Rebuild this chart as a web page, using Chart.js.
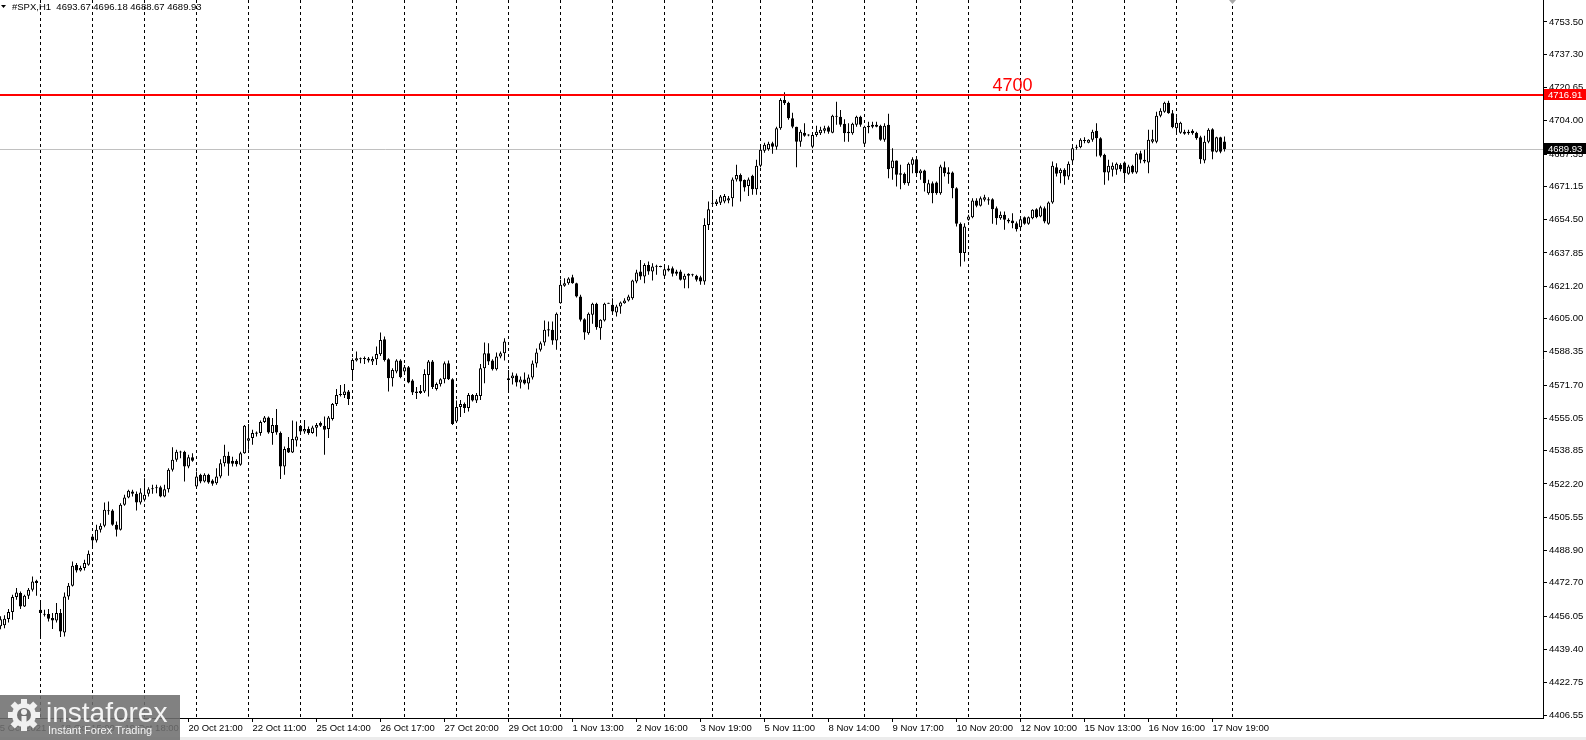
<!DOCTYPE html>
<html>
<head>
<meta charset="utf-8">
<title>#SPX,H1</title>
<script src="https://cdn.jsdelivr.net/npm/chart.js@4.4.1/dist/chart.umd.min.js"></script>
<style>
  html, body { margin: 0; padding: 0; background: #fff; }
  canvas { display: block; }
</style>
</head>
<body>
<canvas id="chart" width="1586" height="740"></canvas>
<script>
// --- DATA (H1 bars, oldest first) ---
const opens = [
  4451, 4451.5, 4454.6, 4458.1, 4465.6, 4467.6, 4460.9, 4466.3, 4469.3, 4473.8,
  4459.3, 4457.1, 4457.1, 4455.1, 4453.9, 4457.6, 4447.9, 4465.9, 4471.3, 4481.6,
  4478.9, 4480.1, 4481.8, 4495.9, 4493.9, 4499.3, 4501.3, 4508.6, 4508.9, 4501.8,
  4499.3, 4511.8, 4515.4, 4518.4, 4517.3, 4512.9, 4514.3, 4517.3, 4519.6, 4520.1,
  4520.6, 4515.9, 4519.6, 4529.3, 4534.3, 4538.4, 4538.4, 4530.9, 4535.6, 4520.9,
  4526.8, 4523.4, 4526.8, 4523.9, 4522.6, 4525.9, 4532.6, 4536.3, 4533.9, 4533.8,
  4531.8, 4537.6, 4543.9, 4545.2, 4547.3, 4547.7, 4553.2, 4555.5, 4547.7, 4551.8,
  4547.7, 4531, 4540.2, 4538, 4544, 4551.3, 4548.5, 4549.7, 4547.7, 4550.3,
  4552.7, 4551.3, 4549.7, 4554.7, 4562.3, 4566.7, 4566.8, 4568.5, 4579.3, 4584,
  4584.8, 4584.8, 4585, 4583.5, 4584.7, 4587.2, 4594.7, 4584.7, 4575.2, 4578.5,
  4584, 4578.5, 4580.7, 4574, 4568.5, 4567.7, 4568.5, 4576.8, 4583.5, 4569.7,
  4572.2, 4574.7, 4582.7, 4574.7, 4553.5, 4560.7, 4562.3, 4560.2, 4566.7, 4564,
  4566.3, 4580.2, 4587.7, 4584, 4579.7, 4586, 4587.7, 4574.3, 4575.2, 4576.5,
  4573, 4574.5, 4572.5, 4575.5, 4582.5, 4589.4, 4593, 4599, 4599.4, 4594,
  4612.7, 4621.4, 4622.7, 4625.7, 4622.7, 4616.1, 4604.7, 4597.7, 4606.9, 4612.4,
  4600.2, 4604, 4612.7, 4611.9, 4608.1, 4611.1, 4612.7, 4614.1, 4615.2, 4623.6,
  4628.6, 4626.1, 4631.9, 4628.6, 4631, 4631.1, 4626.4, 4630.1, 4630.2, 4628.6,
  4628.6, 4624.4, 4627.4, 4626.9, 4626.4, 4625.7, 4623.6, 4651.9, 4662.7, 4662.4,
  4663, 4663.6, 4664.1, 4665.2, 4674.7, 4676.9, 4674.4, 4671.4, 4676.5, 4669.8,
  4681.5, 4689.1, 4689.8, 4692.8, 4691.1, 4700.3, 4714.5, 4713.1, 4705.3, 4701.1,
  4693.6, 4698.1, 4696.9, 4691.1, 4696.9, 4697.8, 4699.1, 4700.8, 4698.1, 4706.1,
  4706.1, 4702.5, 4697.8, 4697.8, 4702, 4706.1, 4692.5, 4700.8, 4701.1, 4702,
  4701.5, 4694.5, 4702, 4680.3, 4684.1, 4677, 4677.5, 4672.8, 4682, 4684.8,
  4677.8, 4679.1, 4667.8, 4672.8, 4673.1, 4667.8, 4680.8, 4677.3, 4678.1, 4670.3,
  4652.5, 4637.8, 4654.5, 4655.8, 4664.1, 4661.5, 4664.5, 4664.8, 4664.8, 4660.3,
  4655.3, 4657, 4654.5, 4654.1, 4652.8, 4650.8, 4655.8, 4652.5, 4655.3, 4659.8,
  4656.1, 4660.3, 4652.5, 4663.1, 4680.8, 4677.8, 4679.5, 4676.1, 4684.1, 4690.8,
  4690.8, 4694.3, 4693.1, 4694.5, 4699.1, 4695.3, 4687, 4678.1, 4679.5, 4679.5,
  4682, 4683.1, 4677.5, 4681.5, 4678.1, 4687.8, 4684.5, 4683.1, 4693.6, 4693.6,
  4706.5, 4708.6, 4713.1, 4707.8, 4700.3, 4698.1, 4698.6, 4697.8, 4699.1, 4698.1,
  4695.8, 4684.1, 4693.6, 4699.8, 4688.6, 4695.8, 4693.67
];
const highs = [
  4456, 4456.5, 4459.6, 4466.8, 4470.1, 4468.4, 4466.8, 4470.1, 4475.9, 4474.3,
  4463.8, 4459.3, 4459.6, 4457.6, 4462.6, 4459.6, 4467.9, 4472.6, 4483.4, 4482.6,
  4481.3, 4484.3, 4488.9, 4496.8, 4501.8, 4502.6, 4512.9, 4513.4, 4509.6, 4503.4,
  4512.6, 4516.8, 4519.3, 4519.3, 4518.4, 4520.1, 4525.1, 4520.6, 4521.8, 4521.8,
  4521.3, 4521.8, 4530.1, 4540.6, 4539.3, 4538.8, 4538.9, 4536.8, 4537.6, 4528.4,
  4527.3, 4527.6, 4527.3, 4524.6, 4530.1, 4534.6, 4541.8, 4538.4, 4535.9, 4534.6,
  4538.4, 4551.8, 4552.3, 4549.3, 4548.5, 4554, 4556.3, 4556, 4555.2, 4559.8,
  4548.5, 4541, 4545.7, 4554, 4553.5, 4551.8, 4554.3, 4551, 4551.3, 4552.7,
  4553.5, 4556, 4556.3, 4562.7, 4569.7, 4571.8, 4572.3, 4569.3, 4585.2, 4588.5,
  4585.5, 4586, 4585.8, 4586, 4591, 4598, 4596, 4585.2, 4580.2, 4584.7,
  4584.7, 4581.8, 4581.3, 4574.7, 4570.7, 4571.8, 4579.7, 4584.3, 4584.3, 4573,
  4575.2, 4583.5, 4584, 4575.2, 4564, 4564.3, 4563, 4567.7, 4567.3, 4567.7,
  4582.3, 4593, 4592.7, 4584.7, 4588, 4588.5, 4595.2, 4579.3, 4578, 4577.5,
  4576, 4578, 4577, 4584, 4590, 4593.5, 4604, 4603.6, 4603.6, 4608,
  4624.4, 4625.2, 4625.7, 4626.9, 4623, 4616.9, 4605.2, 4608, 4613, 4613,
  4604.7, 4613, 4613, 4615.2, 4611.9, 4613.6, 4615.2, 4616.9, 4624.4, 4629.4,
  4634.4, 4632.7, 4633.6, 4632.7, 4632, 4631.5, 4631.1, 4631.7, 4631.1, 4629.4,
  4629.4, 4627.4, 4627.7, 4627.4, 4626.9, 4626.4, 4655.2, 4663.6, 4669.4, 4664.7,
  4666.9, 4667.4, 4666.4, 4675.7, 4682, 4677.7, 4674.7, 4675.7, 4677, 4684.5,
  4691.1, 4693, 4693.6, 4693.6, 4701.1, 4715.3, 4718.3, 4713.6, 4708.1, 4701.1,
  4699.5, 4702.8, 4697.3, 4697.8, 4701.5, 4701.1, 4701.5, 4701.5, 4707, 4713.6,
  4709.5, 4704.8, 4702.8, 4703.1, 4706.5, 4706.5, 4701.5, 4703.6, 4703.6, 4703.6,
  4702, 4702.8, 4707.5, 4690.3, 4684.1, 4682, 4678.1, 4683.1, 4685.8, 4685.3,
  4679.8, 4679.5, 4674.5, 4673.6, 4673.6, 4682, 4683.6, 4680.8, 4678.6, 4670.8,
  4653.1, 4652.8, 4657, 4665.3, 4665.3, 4666.1, 4667, 4665.8, 4665.3, 4661.1,
  4658.6, 4658.6, 4655.3, 4657.8, 4653.6, 4655.3, 4656.1, 4656.1, 4659.8, 4660.3,
  4661.5, 4661.1, 4663.6, 4683.6, 4682.8, 4680.3, 4680.3, 4683.6, 4691.1, 4692,
  4695.3, 4695.8, 4694.8, 4699.5, 4702.8, 4695.8, 4687.5, 4684.5, 4683.1, 4683.1,
  4682.8, 4683.6, 4682, 4682, 4688.1, 4689.1, 4689.5, 4699.5, 4699.5, 4708.6,
  4710.3, 4713.6, 4714.1, 4709.5, 4705.8, 4703.6, 4699.5, 4699.5, 4699.8, 4698.6,
  4696.5, 4696.5, 4700.3, 4700.3, 4696.1, 4696.1, 4696.18
];
const lows = [
  4449.5, 4450, 4452.9, 4454.3, 4464.3, 4459.6, 4460.6, 4464.6, 4468.4, 4466.3,
  4445.9, 4455.9, 4453.4, 4449.6, 4452.9, 4445.6, 4445.9, 4464.3, 4470.9, 4477.9,
  4478.4, 4478.9, 4481.3, 4490.1, 4492.9, 4497.9, 4500.6, 4506.8, 4501.3, 4495.9,
  4498.9, 4511.3, 4515.1, 4515.9, 4508.9, 4511.9, 4513.4, 4515.9, 4517.3, 4517.6,
  4515.6, 4515.6, 4517.9, 4528.4, 4533.4, 4535.1, 4523.4, 4530.1, 4533.4, 4520.6,
  4522.6, 4522.9, 4522.3, 4521.3, 4521.8, 4525.1, 4530.9, 4526.3, 4530.9, 4530.9,
  4531.3, 4537.3, 4539.3, 4541.8, 4546, 4546.3, 4552.7, 4547.3, 4541.8, 4546.8,
  4524.7, 4526.8, 4537.7, 4537.7, 4541, 4547.7, 4547.3, 4546.8, 4547.3, 4546,
  4550.7, 4536.8, 4545.2, 4554, 4561.3, 4566, 4565.2, 4561.8, 4575.2, 4583.5,
  4582.7, 4582.3, 4583, 4581.8, 4581.8, 4586.3, 4583.5, 4568.5, 4571, 4577.7,
  4575.2, 4577.7, 4572.7, 4566.8, 4564.7, 4567.3, 4567.7, 4566, 4569.7, 4569,
  4571, 4572.7, 4574.3, 4551.8, 4553, 4555.7, 4557.7, 4558.5, 4563.5, 4562.7,
  4564.3, 4572.7, 4581.8, 4579, 4579, 4585.2, 4584, 4569.3, 4572, 4571,
  4570, 4572, 4569.5, 4574.5, 4580.5, 4588.5, 4591.4, 4596, 4591.9, 4589.4,
  4612.4, 4621, 4621.9, 4622.4, 4615.6, 4603.6, 4594.4, 4596.9, 4602.4, 4599.4,
  4594.4, 4603.6, 4612.4, 4607.7, 4606.1, 4607.4, 4612.4, 4613.6, 4614.4, 4622.7,
  4624.4, 4622.7, 4626.9, 4624.1, 4627, 4630.7, 4626.1, 4628.6, 4626.1, 4626.4,
  4624.1, 4620.2, 4620.2, 4626.1, 4623.6, 4621.9, 4621.9, 4649.4, 4661.4, 4661.4,
  4661.9, 4662.7, 4662.7, 4661.1, 4673.6, 4663.6, 4668.6, 4666.4, 4667, 4667,
  4680.8, 4688, 4689.1, 4687.5, 4689.5, 4699.5, 4712, 4704.5, 4700.3, 4680.8,
  4691.1, 4696.1, 4696.3, 4690.3, 4696.1, 4696.9, 4697.8, 4697.5, 4697.8, 4702,
  4701.1, 4693.6, 4693.6, 4697, 4701.1, 4701.1, 4692, 4697.8, 4700.3, 4700.8,
  4694.1, 4693.6, 4675.3, 4674.5, 4671.1, 4669.8, 4672, 4671.5, 4677.8, 4677,
  4674.5, 4668.6, 4667, 4662.8, 4667, 4667, 4676.1, 4672.5, 4665.3, 4651.1,
  4631.1, 4633.6, 4654, 4655.3, 4660.8, 4661.1, 4663.6, 4662, 4652.5, 4652,
  4654.5, 4649.5, 4652.8, 4650.3, 4648.6, 4649.5, 4652, 4652, 4654.8, 4655.3,
  4655.8, 4652.8, 4652, 4662.5, 4676.1, 4672.8, 4672, 4674.5, 4683.1, 4689.5,
  4690.3, 4692.8, 4692.8, 4693.6, 4686.1, 4685.8, 4672, 4674.1, 4676.1, 4677,
  4678.6, 4674.5, 4677, 4677.5, 4677.5, 4682.8, 4682.8, 4677.8, 4692.8, 4692.8,
  4705.8, 4708.1, 4707.5, 4700.3, 4697.8, 4697.5, 4697, 4697, 4697, 4694.5,
  4682.5, 4682.8, 4692.8, 4684.8, 4688.1, 4687.8, 4688.67
];
const closes = [
  4454.5, 4454.7, 4458.1, 4465.6, 4467.9, 4460.9, 4466.3, 4469.3, 4473.4, 4472.6,
  4457.6, 4456.8, 4454.8, 4453.9, 4457.6, 4448.4, 4465.9, 4471.3, 4481.3, 4478.9,
  4480.1, 4482.6, 4487.3, 4493.9, 4499.3, 4501.3, 4509.3, 4508.9, 4501.8, 4499.3,
  4511.8, 4515.4, 4518.8, 4517.3, 4512.9, 4517.9, 4516.8, 4519.6, 4520.1, 4520.6,
  4515.9, 4519.6, 4529.3, 4534.3, 4538.4, 4538.1, 4530.9, 4535.6, 4533.9, 4525.9,
  4523.4, 4526.8, 4522.9, 4522.3, 4525.9, 4532.6, 4536.3, 4532.3, 4532.3, 4532.1,
  4537.6, 4551.3, 4545.1, 4547.7, 4548, 4553.2, 4555.5, 4548, 4551.8, 4548,
  4531, 4539.7, 4538, 4544.7, 4546, 4548.5, 4549.7, 4547.7, 4550.5, 4551.8,
  4551.3, 4549.3, 4555.5, 4562.3, 4566.8, 4567.3, 4568.5, 4564.7, 4584.3, 4585.2,
  4584.9, 4585.2, 4584, 4584.8, 4587.3, 4594.3, 4584.3, 4575.2, 4579.3, 4584,
  4575.7, 4580.7, 4573, 4568, 4567.7, 4568.8, 4577.3, 4583.5, 4570.7, 4572.3,
  4574.7, 4582.7, 4574.7, 4552.3, 4560.7, 4562.3, 4560.2, 4566.7, 4564, 4566.7,
  4580.2, 4587.7, 4583.5, 4579.7, 4586, 4587.7, 4593.5, 4575.2, 4576.5, 4573,
  4574.5, 4572.5, 4575.5, 4582.5, 4588, 4592.7, 4599.4, 4599.7, 4594, 4607.4,
  4621.9, 4622.7, 4625.1, 4622.7, 4616.1, 4604.4, 4598.1, 4607.4, 4612.4, 4600.7,
  4604.4, 4612.4, 4612.7, 4608.6, 4611.1, 4613.1, 4614.1, 4616.1, 4624.1, 4628.1,
  4626.1, 4631.9, 4628.6, 4631.1, 4631.4, 4631.1, 4629.7, 4629.1, 4627.4, 4627.4,
  4624.4, 4626.4, 4626.4, 4626.9, 4624.4, 4623.6, 4651.9, 4659.7, 4662.8, 4663.6,
  4666.1, 4666.4, 4665.2, 4674.7, 4676.9, 4673.6, 4670.7, 4674.7, 4669.8, 4681.5,
  4689.5, 4692, 4692.5, 4691.1, 4700.3, 4714.5, 4712.8, 4705.3, 4701.1, 4693.6,
  4698.6, 4696.5, 4696.9, 4696.9, 4698.6, 4699.5, 4700.3, 4698.6, 4706.5, 4706.5,
  4702, 4697.8, 4698.6, 4702.5, 4706.1, 4702, 4701.1, 4701.5, 4702, 4701.1,
  4694.5, 4701.5, 4679.8, 4684.1, 4677, 4677.8, 4672.8, 4682.5, 4684.8, 4677.8,
  4679.1, 4672.8, 4672.8, 4667.8, 4667.8, 4681.1, 4677.8, 4678.3, 4670.3, 4652.5,
  4637.8, 4651.1, 4656.1, 4664.1, 4661.5, 4665.3, 4665.8, 4664.1, 4659.8, 4655.3,
  4657, 4654.5, 4653.6, 4652.8, 4649.8, 4654.8, 4652.5, 4655.8, 4659.5, 4655.8,
  4660.8, 4653.6, 4663.1, 4681.5, 4677.5, 4679.5, 4676.1, 4682.5, 4690.3, 4690.8,
  4694.5, 4694.1, 4694.5, 4698.6, 4695.3, 4686.5, 4678.1, 4681.5, 4681.5, 4682.5,
  4679.8, 4677.8, 4681.1, 4678.1, 4687.5, 4684.5, 4683.6, 4694.5, 4694.8, 4706.5,
  4709.1, 4713.1, 4707.8, 4700.8, 4703.1, 4703.1, 4697.5, 4698.6, 4697.8, 4695.3,
  4684.8, 4693.6, 4699.5, 4688.6, 4695.8, 4688.6, 4689.93
];

// bar index where each dotted separator sits
const separatorBars = [10, 23, 36, 49, 62, 75, 88, 101, 114, 127, 140, 153, 166, 178, 190, 203, 216, 229, 242, 255, 268, 281, 294, 308];

const timeLabels = ["15 Oct 2021", "18 Oct 15:00", "19 Oct 18:00", "20 Oct 21:00", "22 Oct 11:00", "25 Oct 14:00",
  "26 Oct 17:00", "27 Oct 20:00", "29 Oct 10:00", "1 Nov 13:00", "2 Nov 16:00", "3 Nov 19:00", "5 Nov 11:00",
  "8 Nov 14:00", "9 Nov 17:00", "10 Nov 20:00", "12 Nov 10:00", "15 Nov 13:00", "16 Nov 16:00", "17 Nov 19:00"];
const timeLabelBars = [-1.5, 15, 31, 47, 63, 79, 95, 111, 127, 143, 159, 175, 191, 207, 223, 239, 255, 271, 287, 303];

const priceTicks = [4753.50, 4737.30, 4720.65, 4704.00, 4687.35, 4671.15, 4654.50, 4637.85, 4621.20, 4605.00, 4588.35,
  4571.70, 4555.05, 4538.85, 4522.20, 4505.55, 4488.90, 4472.70, 4456.05, 4439.40, 4422.75, 4406.55];

const levelPrice = 4716.91;
const levelText = "4700";
const levelTextBar = 253;
const bidPrice = 4689.93;
const symbol = "#SPX,H1";

// --- VIEW ---
const barMin = -0.125, barMax = 385.625;
const priceMin = 4405.05, priceMax = 4764.51;
const FONT = "'Liberation Sans', Arial, sans-serif";

const bodies = opens.map((o, i) => {
    let lo = Math.min(o, closes[i]), hi = Math.max(o, closes[i]);
    if (hi - lo < 0.5) {
        const m = (lo + hi) / 2;
        lo = m - 0.25;
        hi = m + 0.25;
    }
    return { x: i, y: [lo, hi] };
});
const wicks = opens.map((o, i) => ({ x: i, y: [lows[i], highs[i]] }));
const bodyColors = opens.map((o, i) => closes[i] >= o ? "#ffffff" : "#000000");

// --- OVERLAYS ---
function drawLogo(ctx) {
    ctx.save();
    ctx.fillStyle = "rgba(112,112,112,0.88)";
    ctx.fillRect(0, 695, 180, 45);

    // gear
    const cx = 24, cy = 715;
    ctx.fillStyle = "#f0f0f0";
    for (let k = 0; k < 8; k++) {
        ctx.save();
        ctx.translate(cx, cy);
        ctx.rotate(k * Math.PI / 4);
        ctx.fillRect(-3, -16, 6, 6);
        ctx.restore();
    }
    ctx.beginPath();
    ctx.arc(cx, cy, 12, 0, Math.PI * 2);
    ctx.fill();
    ctx.fillStyle = "rgb(112,112,112)";
    ctx.beginPath();
    ctx.arc(cx, cy, 7, 0, Math.PI * 2);
    ctx.fill();
    ctx.fillStyle = "#f0f0f0";
    ctx.beginPath();
    ctx.arc(cx, cy - 3, 3, 0, Math.PI * 2);
    ctx.fill();
    ctx.fillRect(cx - 2.5, cy + 1, 5, 14);

    ctx.fillStyle = "#f4f4f4";
    ctx.textBaseline = "alphabetic";
    ctx.textAlign = "left";
    ctx.font = "28px " + FONT;
    ctx.fillText("instaforex", 46, 722);
    ctx.font = "11px " + FONT;
    ctx.fillText("Instant Forex Trading", 48, 734);
    ctx.restore();
}

function priceBox(ctx, y, bg, text) {
    ctx.fillStyle = bg;
    ctx.fillRect(1544, y - 6, 42, 11);
    ctx.fillStyle = "#ffffff";
    ctx.font = "9.5px " + FONT;
    ctx.textAlign = "left";
    ctx.textBaseline = "middle";
    ctx.fillText(text, 1548, y);
}

const overlay = {
    id: "overlay",
    beforeDatasetsDraw(chart) {
        const { ctx, chartArea: a, scales: { y } } = chart;
        const yb = Math.round(y.getPixelForValue(bidPrice)) + 0.5;
        ctx.save();
        ctx.strokeStyle = "#c0c0c0";
        ctx.lineWidth = 1;
        ctx.beginPath();
        ctx.moveTo(a.left, yb);
        ctx.lineTo(a.right, yb);
        ctx.stroke();
        ctx.restore();
    },
    afterDatasetsDraw(chart) {
        const { ctx, chartArea: a, scales: { x, y } } = chart;
        const yr = Math.round(y.getPixelForValue(levelPrice));
        ctx.save();
        ctx.fillStyle = "#ff0000";
        ctx.fillRect(a.left, yr - 1, a.right - a.left, 2);
        ctx.font = "18px " + FONT;
        ctx.textAlign = "center";
        ctx.textBaseline = "alphabetic";
        ctx.fillText(levelText, x.getPixelForValue(levelTextBar), yr - 4);
        ctx.restore();
    },
    afterDraw(chart) {
        const { ctx, scales: { y } } = chart;
        ctx.save();
        priceBox(ctx, Math.round(y.getPixelForValue(levelPrice)), "#ff0000", levelPrice.toFixed(2));
        priceBox(ctx, Math.round(y.getPixelForValue(bidPrice)), "#000000", bidPrice.toFixed(2));

        // header
        ctx.fillStyle = "#000";
        ctx.beginPath();
        ctx.moveTo(1, 5); ctx.lineTo(6, 5); ctx.lineTo(3.5, 8); ctx.closePath();
        ctx.fill();
        ctx.font = "9.5px " + FONT;
        ctx.textAlign = "left";
        ctx.textBaseline = "alphabetic";
        const last = opens.length - 1;
        const ohlc = [opens[last], highs[last], lows[last], closes[last]].map(v => v.toFixed(2)).join(" ");
        ctx.fillText(symbol + "  " + ohlc, 12, 10);

        // chart shift marker
        ctx.fillStyle = "#a8a8a8";
        ctx.beginPath();
        ctx.moveTo(1229, 0); ctx.lineTo(1236, 0); ctx.lineTo(1232.5, 4); ctx.closePath();
        ctx.fill();

        ctx.fillStyle = "#ececec";
        ctx.fillRect(0, 737, 1586, 3);
        ctx.restore();

        drawLogo(ctx);
    }
};

// --- CHART ---
new Chart(document.getElementById("chart"), {
    type: "bar",
    data: {
        datasets: [
            {
                data: bodies,
                backgroundColor: bodyColors,
                borderColor: "#000",
                borderWidth: 1,
                borderSkipped: false,
                barThickness: 3,
                grouped: false,
                inflateAmount: 0,
                order: 0
            },
            {
                data: wicks,
                backgroundColor: "#000",
                borderWidth: 0,
                barThickness: 1,
                grouped: false,
                inflateAmount: 0,
                order: 1
            }
        ]
    },
    options: {
        responsive: false,
        animation: false,
        devicePixelRatio: 1,
        layout: { padding: 0 },
        plugins: { legend: { display: false }, tooltip: { enabled: false } },
        scales: {
            x: {
                type: "linear",
                position: "bottom",
                min: barMin,
                max: barMax,
                offset: false,
                afterBuildTicks: s => { s.ticks = timeLabelBars.map(v => ({ value: v })); },
                afterFit: s => { s.height = 22; s.paddingLeft = 0; s.paddingRight = 0; },
                grid: { display: true, offset: false, drawOnChartArea: false, drawTicks: true, tickLength: 4, color: "#000" },
                border: { display: true, color: "#000", width: 1 },
                ticks: {
                    autoSkip: false, maxRotation: 0, align: "start", padding: 1, color: "#000",
                    font: { family: FONT, size: 9.5 },
                    callback: (v, i) => timeLabels[i]
                }
            },
            xg: {
                type: "linear",
                position: "top",
                min: barMin,
                max: barMax,
                offset: false,
                afterBuildTicks: s => { s.ticks = separatorBars.map(v => ({ value: v })); },
                afterFit: s => { s.height = 0; s.paddingLeft = 0; s.paddingRight = 0; },
                grid: { offset: false, color: "#000", lineWidth: 1, drawTicks: false },
                border: { display: false, dash: [3, 3] },
                ticks: { display: false }
            },
            y: {
                position: "right",
                min: priceMin,
                max: priceMax,
                afterBuildTicks: s => { s.ticks = priceTicks.map(v => ({ value: v })); },
                afterFit: s => { s.width = 43; s.paddingTop = 0; s.paddingBottom = 0; },
                grid: { display: true, drawOnChartArea: false, drawTicks: true, tickLength: 4, color: "#000" },
                border: { display: true, color: "#000", width: 1 },
                ticks: {
                    autoSkip: false, padding: 2, color: "#000",
                    font: { family: FONT, size: 9.5 },
                    callback: v => v.toFixed(2)
                }
            }
        }
    },
    plugins: [overlay]
});
</script>
</body>
</html>
